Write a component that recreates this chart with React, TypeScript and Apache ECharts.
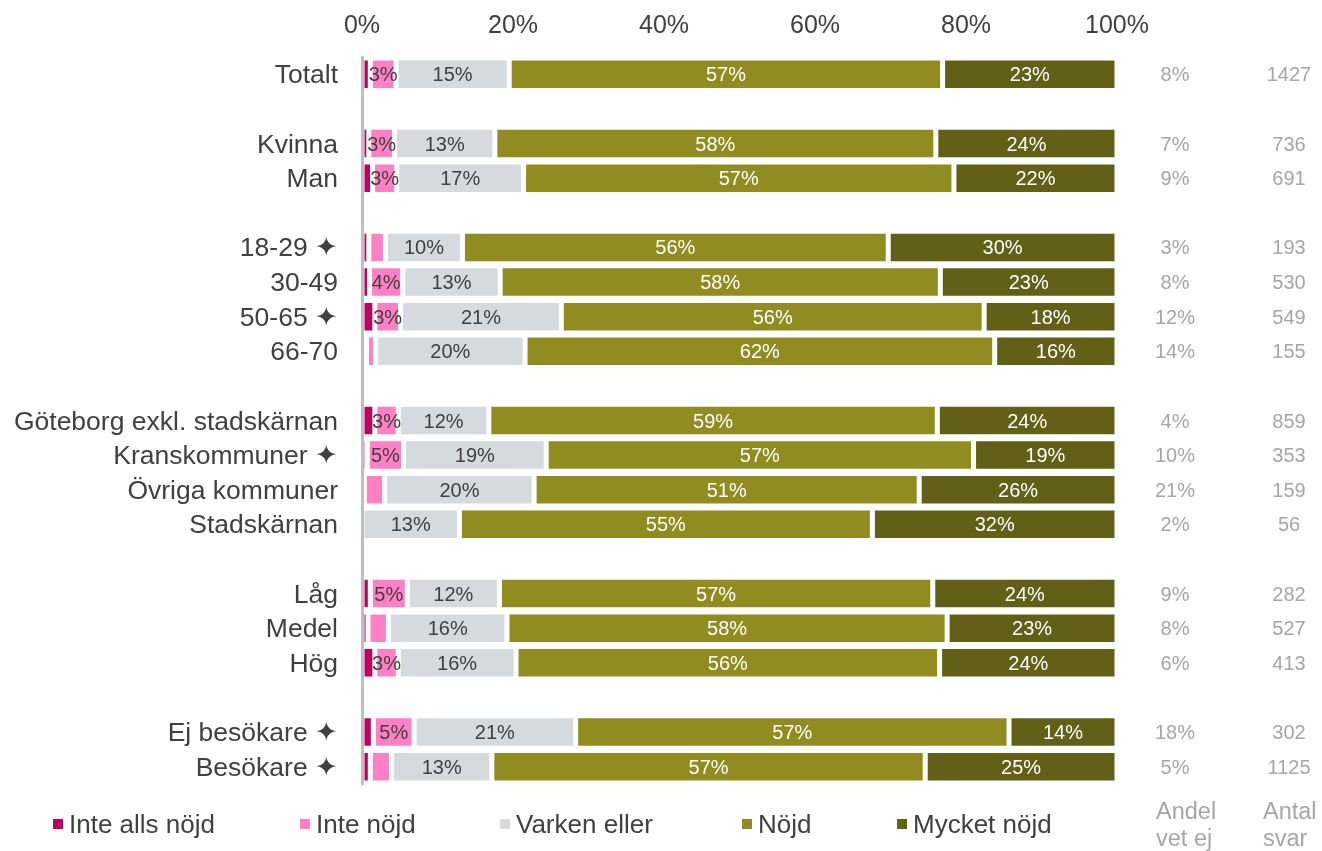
import React, { useEffect, useRef } from "react";
import * as echarts from "echarts";

const categories = [
  "Totalt", "",
  "Kvinna", "Man", "",
  "18-29 ✦", "30-49", "50-65 ✦", "66-70", "",
  "Göteborg exkl. stadskärnan", "Kranskommuner ✦", "Övriga kommuner", "Stadskärnan", "",
  "Låg", "Medel", "Hög", "",
  "Ej besökare ✦", "Besökare ✦",
];

const seriesNames = ["Inte alls nöjd", "Inte nöjd", "Varken eller", "Nöjd", "Mycket nöjd"];

const inteAllsNojd = [1.1, null, 0.9, 1.4, null, 0.9, 1.0, 1.7, 0.6, null, 1.7, 0.7, 0.3, 0, null, 1.1, 0.8, 1.7, null, 1.5, 1.1];
const inteNojd = [3.4, null, 3.4, 3.2, null, 2.2, 4.4, 3.4, 1.2, null, 3.1, 4.8, 2.7, 0, null, 4.9, 2.7, 3.1, null, 5.4, 2.8];
const varkenEller = [15.0, null, 13.3, 16.8, null, 10.2, 12.9, 21.3, 19.8, null, 12.0, 18.9, 19.8, 12.9, null, 12.2, 15.7, 15.6, null, 21.4, 13.3];
const nojd = [57.4, null, 58.4, 57.0, null, 56.4, 58.3, 56.0, 62.2, null, 59.4, 56.6, 51.0, 54.7, null, 57.4, 58.3, 56.1, null, 57.4, 57.4];
const mycketNojd = [23.1, null, 24.0, 21.6, null, 30.3, 23.4, 17.6, 16.2, null, 23.8, 19.0, 26.2, 32.4, null, 24.4, 22.5, 23.5, null, 14.3, 25.4];

const andelVetEj = ["8%", "", "7%", "9%", "", "3%", "8%", "12%", "14%", "", "4%", "10%", "21%", "2%", "", "9%", "8%", "6%", "", "18%", "5%"];
const antalSvar = ["1427", "", "736", "691", "", "193", "530", "549", "155", "", "859", "353", "159", "56", "", "282", "527", "413", "", "302", "1125"];

const xTicks = [0, 20, 40, 60, 80, 100];

const colors = ["#c0005f", "#ff80c4", "#d4dadd", "#908c20", "#625f17"];
const labelColors = ["#404040", "#404040", "#404040", "#ffffff", "#ffffff"];
const legendLefts = [53, 300, 500, 742, 897];

const FONT = "'Liberation Sans', Arial, sans-serif";

export default function App() {
  const ref = useRef<HTMLDivElement>(null);
  useEffect(() => {
    if (!ref.current) return;
    const chart = echarts.init(ref.current, null, { renderer: "svg" });
    const dataSets = [inteAllsNojd, inteNojd, varkenEller, nojd, mycketNojd];
    const series = seriesNames.map((name, i) => ({
      name,
      type: "bar",
      stack: "total",
      barWidth: 32.5,
      data: dataSets[i],
      itemStyle: { color: colors[i], borderColor: "#ffffff", borderWidth: 2.5 },
      label: {
        show: i > 0,
        position: "inside",
        color: labelColors[i],
        fontSize: 20,
        fontFamily: FONT,
        formatter: (p: any) => (p.value != null && p.value >= 3 ? Math.round(p.value) + "%" : ""),
      },
      emphasis: { disabled: true },
    }));
    const rightAxis = (values: string[], margin: number) => ({
      type: "category",
      data: categories,
      inverse: true,
      position: "right",
      axisLine: { show: false },
      axisTick: { show: false },
      axisLabel: {
        interval: 0,
        fontSize: 20,
        color: "#a6a6a6",
        align: "center",
        margin,
        fontFamily: FONT,
        formatter: (_v: string, idx: number) => values[idx],
      },
    });
    chart.setOption({
      animation: false,
      textStyle: { fontFamily: FONT },
      grid: { left: 362, right: 205, top: 57, bottom: 67, containLabel: false },
      xAxis: {
        type: "value",
        position: "top",
        min: xTicks[0],
        max: xTicks[xTicks.length - 1],
        interval: 20,
        axisLine: { show: false },
        axisTick: { show: false },
        splitLine: { show: false },
        axisLabel: { formatter: "{value}%", fontSize: 25, color: "#404040", margin: 21, fontFamily: FONT },
      },
      yAxis: [
        {
          type: "category",
          data: categories,
          inverse: true,
          z: 10,
          offset: 1,
          axisLine: { show: true, lineStyle: { color: "#bfbfbf", width: 3 } },
          axisTick: { show: false },
          axisLabel: { interval: 0, fontSize: 26.5, color: "#404040", margin: 23, fontFamily: FONT },
        },
        rightAxis(andelVetEj, 58),
        rightAxis(antalSvar, 172),
      ],
      legend: seriesNames.map((name, i) => ({
        data: [name],
        left: legendLefts[i],
        top: 811,
        padding: 0,
        icon: "rect",
        itemWidth: 10,
        itemHeight: 10,
        itemGap: 0,
        selectedMode: false,
        itemStyle: { borderWidth: 0 },
        textStyle: { fontSize: 26, color: "#404040", fontFamily: FONT, padding: [0, 0, 0, 1] },
      })),
      graphic: [
        {
          type: "text",
          left: 1156,
          top: 797,
          style: { text: "Andel\nvet ej", fontSize: 23.5, lineHeight: 27, fill: "#a6a6a6", fontFamily: FONT },
        },
        {
          type: "text",
          left: 1263,
          top: 797,
          style: { text: "Antal\nsvar", fontSize: 23.5, lineHeight: 27, fill: "#a6a6a6", fontFamily: FONT },
        },
      ],
      series,
    });
    return () => chart.dispose();
  }, []);
  return <div ref={ref} style={{ position: "fixed", left: 0, top: 0, width: 1322, height: 851 }} />;
}
